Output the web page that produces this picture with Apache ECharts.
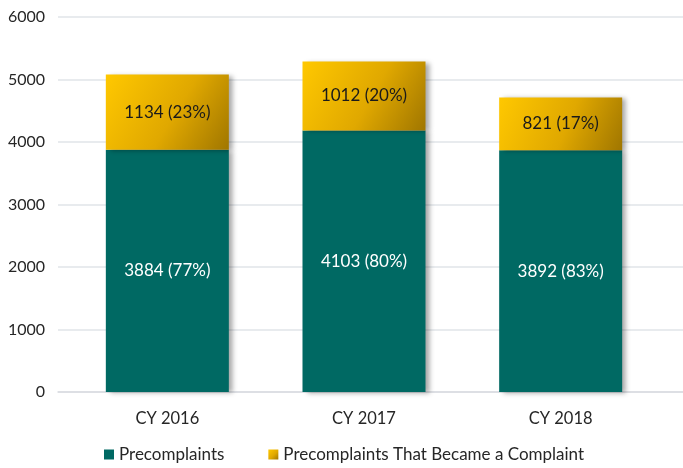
<!DOCTYPE html>
<html>
<head>
<meta charset="utf-8">
<style>
  html, body { margin: 0; padding: 0; background: #fff; }
  #chart { width: 683px; height: 468px; }
</style>
<script src="https://cdn.jsdelivr.net/npm/echarts@6/dist/echarts.min.js"></script>
</head>
<body>
<div id="chart"></div>
<script>
// categories
var years = ['CY 2016', 'CY 2017', 'CY 2018']
// bar heights as drawn in the picture
var precompBars = [3878, 4185, 3868]
var complaintBars = [1202, 1103, 845]
// numbers printed on the bars
var precompCounts = [3884, 4103, 3892]
var precompPct = [77, 80, 83]
var complaintCounts = [1134, 1012, 821]
var complaintPct = [23, 20, 17]
// y ticks
var yMin = 0
var yMax = 6000
var yStep = 1000

var font = 'Lato'
var teal = '#006963'
var gold = new echarts.graphic.LinearGradient(0, 0, 1, 1, [
  { offset: 0, color: '#FFC800' },
  { offset: 0.55, color: '#E0A800' },
  { offset: 1, color: '#A07600' }
])
var shadow = {
  shadowColor: 'rgba(0,0,0,0.35)',
  shadowBlur: 5,
  shadowOffsetX: 4,
  shadowOffsetY: 1
}

var chart = echarts.init(document.getElementById('chart'))
chart.setOption({
  animation: false,
  textStyle: { fontFamily: font },
  grid: [
    // background grid: gridlines and y labels
    { left: 58, right: 0, top: 17, bottom: 76 },
    // bars
    { left: 69, right: 24, top: 17, bottom: 76 }
  ],
  legend: {
    bottom: 0,
    left: 99,
    icon: 'rect',
    itemWidth: 10,
    itemHeight: 10,
    itemGap: 44,
    textStyle: { fontFamily: font, fontSize: 17, color: '#262626' },
    data: ['Precomplaints', 'Precomplaints That Became a Complaint']
  },
  xAxis: [
    {
      gridIndex: 0,
      type: 'category',
      data: years,
      axisLine: { lineStyle: { color: '#d9dce1', width: 1.5 } },
      axisTick: { show: false },
      axisLabel: { show: false }
    },
    {
      gridIndex: 1,
      type: 'category',
      data: years,
      axisLine: { show: false },
      axisTick: { show: false },
      axisLabel: { fontSize: 16.5, color: '#262626', margin: 18, fontFamily: font }
    }
  ],
  yAxis: [
    {
      gridIndex: 0,
      type: 'value',
      min: yMin,
      max: yMax,
      interval: yStep,
      axisLine: { show: false },
      axisTick: { show: false },
      axisLabel: {
        fontSize: 16,
        color: '#262626',
        margin: 13,
        fontFamily: font,
        formatter: function (v) { return String(v) }
      },
      splitLine: { lineStyle: { color: '#e1e4e9', width: 1.5 } }
    },
    {
      gridIndex: 1,
      type: 'value',
      min: yMin,
      max: yMax,
      interval: yStep,
      show: false,
      splitLine: { show: false }
    }
  ],
  series: [
    {
      name: 'Precomplaints',
      type: 'bar',
      xAxisIndex: 1,
      yAxisIndex: 1,
      stack: 'total',
      barWidth: 123,
      data: precompBars,
      itemStyle: Object.assign({ color: teal }, shadow),
      label: {
        show: true,
        position: 'inside',
        fontSize: 17,
        color: '#ffffff',
        fontFamily: font,
        formatter: function (p) {
          return precompCounts[p.dataIndex] + ' (' + precompPct[p.dataIndex] + '%)'
        }
      }
    },
    {
      name: 'Precomplaints That Became a Complaint',
      type: 'bar',
      xAxisIndex: 1,
      yAxisIndex: 1,
      stack: 'total',
      barWidth: 123,
      data: complaintBars,
      itemStyle: Object.assign({ color: gold }, shadow),
      label: {
        show: true,
        position: 'inside',
        fontSize: 17,
        color: '#1a1a1a',
        fontFamily: font,
        formatter: function (p) {
          return complaintCounts[p.dataIndex] + ' (' + complaintPct[p.dataIndex] + '%)'
        }
      }
    }
  ]
})
</script>
</body>
</html>
